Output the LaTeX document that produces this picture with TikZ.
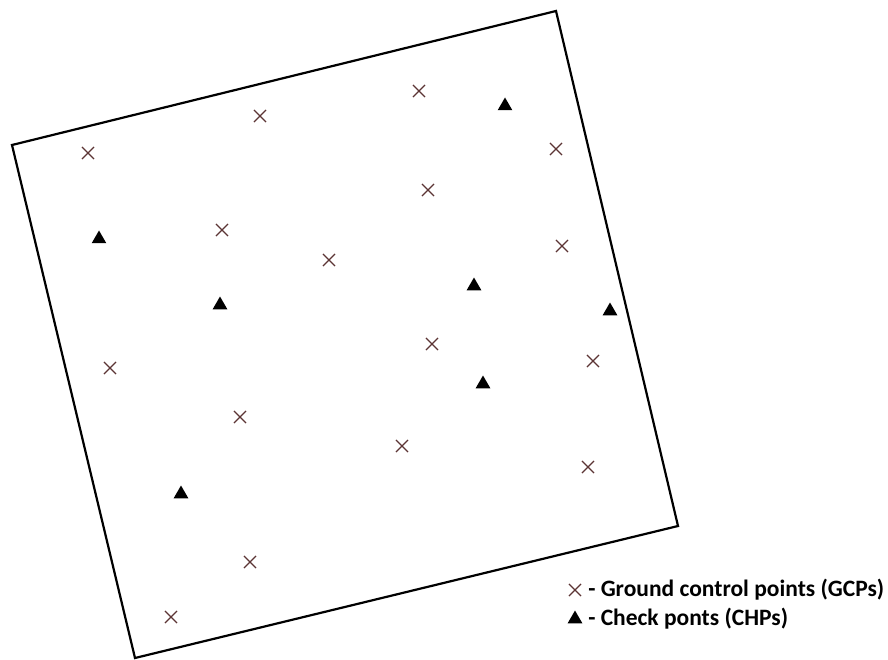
\documentclass[tikz,border=0pt]{standalone}
\usepackage{fontspec}
\setmainfont{Carlito}
\usetikzlibrary{positioning,shapes.geometric,shapes.misc}
\definecolor{gcpbrown}{RGB}{92,52,52}
\tikzset{
gcp/.style={draw=gcpbrown,cross out,line width=1.1pt,minimum size=11pt,inner sep=0pt},
chp/.style={fill=black,regular polygon,regular polygon sides=3,minimum size=17pt,inner sep=0pt},
frame/.style={line width=2.2pt,line join=miter},
legend/.style={anchor=west,font=\bfseries\fontsize{23.5}{25}\selectfont,inner sep=0pt}
}
\begin{document}
\begin{tikzpicture}[x=1pt,y=-1pt]
\useasboundingbox (0,0) rectangle (888,660);
\coordinate (tl) at (12,145);
\coordinate (tr) at (556,11);
\coordinate (br) at (678,526);
\coordinate (bl) at (135,658);
\draw[frame](tl)--(tr)--(br)--(bl)--cycle;
% ground control points
\foreach \n/\x/\y in {g1/88/153,g2/260/116,g3/419/91,g4/556/149,g5/428/190,g6/222/230,
  g7/329/260,g8/562/246,g9/432/344,g10/110/368,g11/593/361,g12/240/417,g13/402/446,
  g14/588/467,g15/250/562,g16/171/617}
  \node[gcp](\n) at (\x,\y){};
% check points
\foreach \n/\x/\y in {c1/505/106,c2/99/239,c3/220/305,c4/474/286,c5/610/311,c6/483/384,c7/181/494}
  \node[chp](\n) at (\x,\y){};
% legend
\node[gcp](lgcp) at (575,590){};
\node[legend,right=7pt of lgcp](tgcp){- Ground control points (GCPs)};
\node[chp](lchp) at (575,619){};
\node[legend] (tchp) at (tgcp.west |- lchp){- Check ponts (CHPs)};
\end{tikzpicture}
\end{document}
